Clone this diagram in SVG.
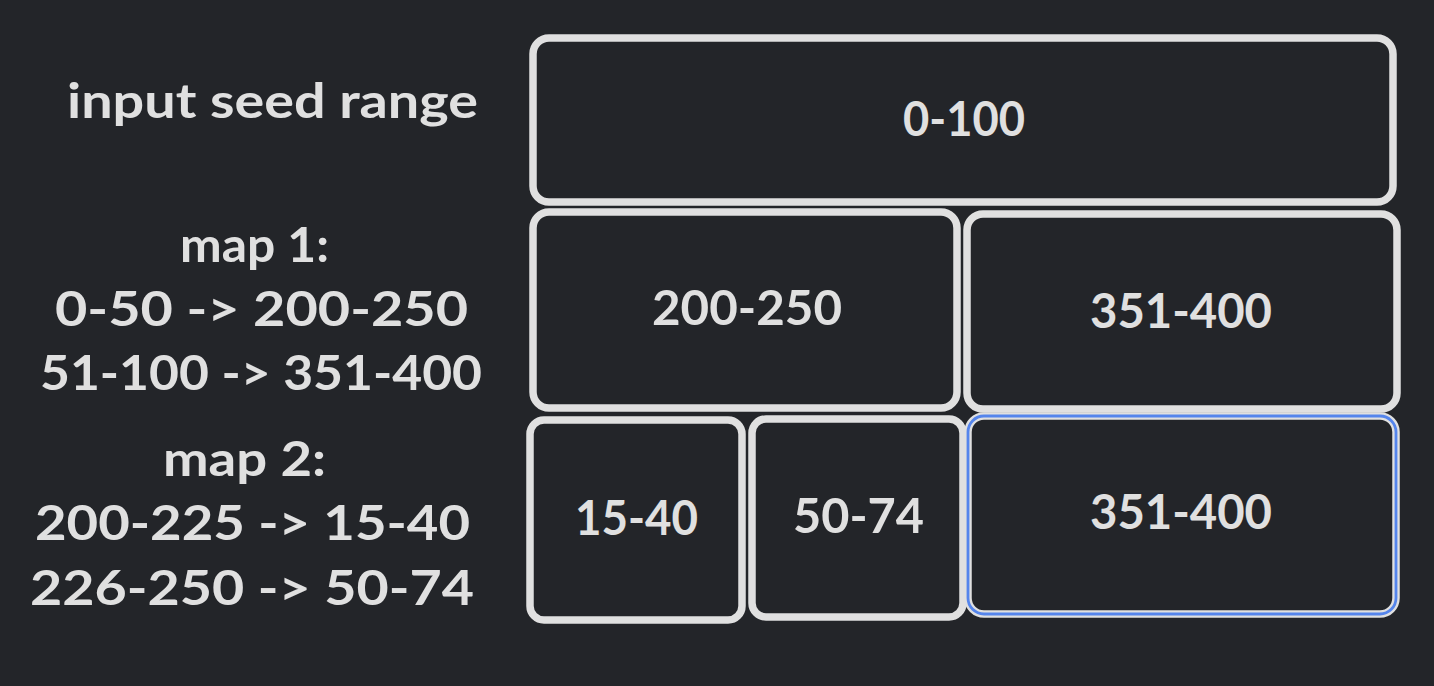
<svg xmlns="http://www.w3.org/2000/svg" width="1434" height="686" viewBox="0 0 1434 686">
<style>
.bg{fill:#232529}
.box{fill:none;stroke:#e0e0e0;stroke-width:7.5}
.sel{fill:none;stroke:#5585ec;stroke-width:2.8}
.t{font-family:Lato,"Noto Sans",sans-serif;font-weight:700;font-size:48px;fill:#e0e0e0}
</style>
<rect class="bg" x="0" y="0" width="1434" height="686"/>
<g id="labels">
<text class="t" x="67" y="118" textLength="411" lengthAdjust="spacingAndGlyphs">input seed range</text>
<text class="t" x="180" y="262" textLength="149" lengthAdjust="spacingAndGlyphs">map 1:</text>
<text class="t" x="55" y="326" textLength="413" lengthAdjust="spacingAndGlyphs">0-50 -&gt; 200-250</text>
<text class="t" x="40" y="390" textLength="442" lengthAdjust="spacingAndGlyphs">51-100 -&gt; 351-400</text>
<text class="t" x="163" y="476" textLength="163" lengthAdjust="spacingAndGlyphs">map 2:</text>
<text class="t" x="35" y="540" textLength="435" lengthAdjust="spacingAndGlyphs">200-225 -&gt; 15-40</text>
<text class="t" x="30" y="605" textLength="444" lengthAdjust="spacingAndGlyphs">226-250 -&gt; 50-74</text>
</g>
<g id="n-0-100">
<rect class="box" x="533" y="38" width="860" height="164" rx="16"/>
<text class="t" x="903" y="136" textLength="122" lengthAdjust="spacingAndGlyphs">0-100</text>
</g>
<g id="n-200-250">
<rect class="box" x="533" y="212" width="424" height="196" rx="16"/>
<text class="t" x="652" y="325" textLength="190" lengthAdjust="spacingAndGlyphs">200-250</text>
</g>
<g id="n-351-400-a">
<rect class="box" x="967" y="214" width="430" height="195" rx="16"/>
<text class="t" x="1090" y="328" textLength="182" lengthAdjust="spacingAndGlyphs">351-400</text>
</g>
<g id="n-15-40">
<rect class="box" x="530" y="420" width="212" height="200" rx="14"/>
<text class="t" x="575" y="535" textLength="123" lengthAdjust="spacingAndGlyphs">15-40</text>
</g>
<g id="n-50-74">
<rect class="box" x="752" y="419" width="211" height="198" rx="14"/>
<text class="t" x="793" y="533" textLength="131" lengthAdjust="spacingAndGlyphs">50-74</text>
</g>
<g id="n-351-400-b">
<rect class="box" x="968" y="416" width="428" height="198" rx="16"/>
<rect class="sel" x="968" y="416" width="428" height="198" rx="16"/>
<text class="t" x="1090" y="529" textLength="182" lengthAdjust="spacingAndGlyphs">351-400</text>
</g>
<g id="connectors"></g>
</svg>
